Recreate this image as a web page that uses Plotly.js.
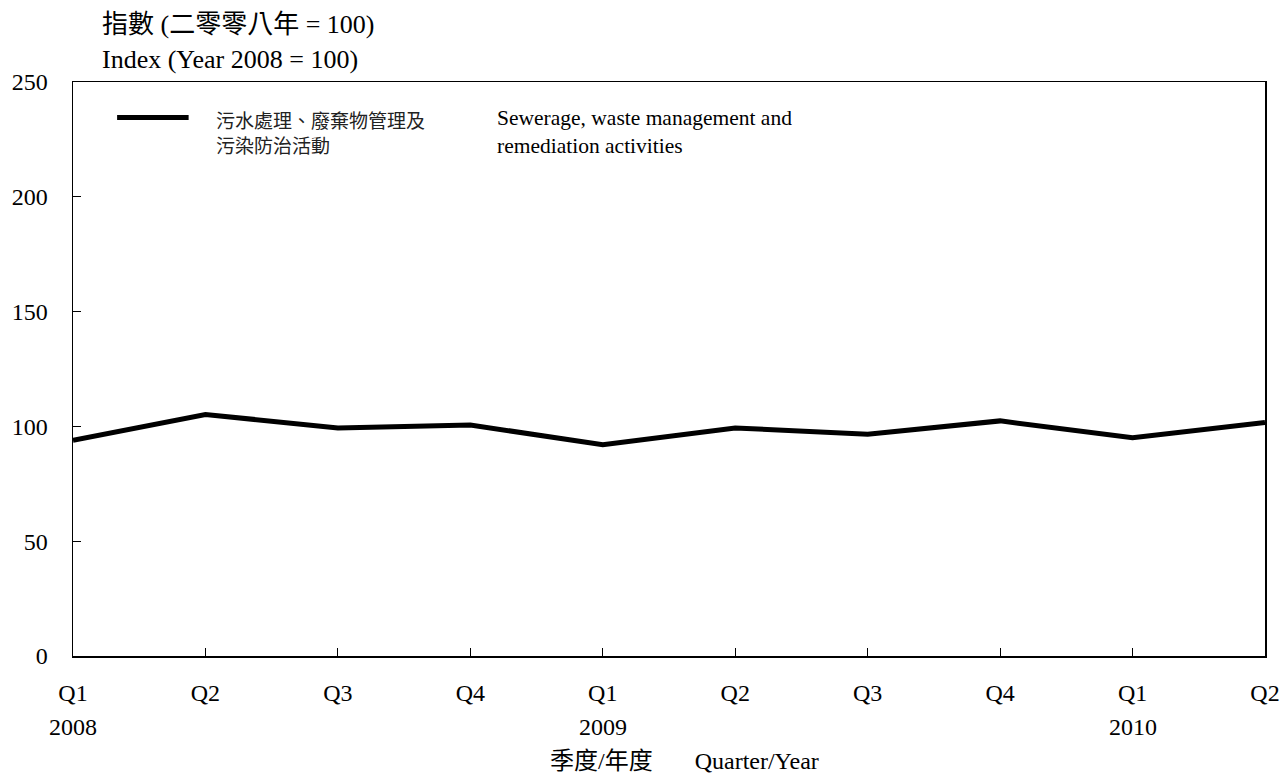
<!DOCTYPE html>
<html><head><meta charset="utf-8">
<script src="https://cdn.plot.ly/plotly-3.0.1.min.js"></script>
<style>html,body{margin:0;padding:0;background:#fff}#chart{width:1285px;height:774px}</style>
</head><body><div id="chart"></div>
<script>
const quarters = ["Q1","Q2","Q3","Q4","Q1","Q2","Q3","Q4","Q1","Q2"];
const years = ["2008","","","","2009","","","","2010",""];
const indexValues = [94.0, 105.2, 99.3, 100.6, 92.0, 99.3, 96.6, 102.4, 95.1, 101.7];
const seriesZh = "污水處理、廢棄物管理及<br>污染防治活動";
const seriesEn = "Sewerage, waste management and<br>remediation activities";
const yTicks = [0, 50, 100, 150, 200, 250];

const serif = "Liberation Serif, 'Times New Roman', 'Noto Sans CJK TC', serif";
const xPos = quarters.map((q, i) => i);

const annotations = [];
years.forEach((y, i) => {
  if (y) annotations.push({x: i, y: -0.123, xref: 'x', yref: 'paper', text: y, showarrow: false,
    font: {family: serif, size: 24, color: '#000'}, xanchor: 'center', yanchor: 'middle'});
});
annotations.push({x: 0.023, y: 1.1, xref: 'paper', yref: 'paper', text: '指數 (二零零八年 = 100)', showarrow: false,
  font: {family: serif, size: 26, color: '#000'}, xanchor: 'left', yanchor: 'middle'});
annotations.push({x: 0.023, y: 1.039, xref: 'paper', yref: 'paper', text: 'Index (Year 2008 = 100)', showarrow: false,
  font: {family: serif, size: 26, color: '#000'}, xanchor: 'left', yanchor: 'middle'});
annotations.push({x: 0.118, y: 0.913, xref: 'paper', yref: 'paper', text: seriesZh, showarrow: false, align: 'left',
  font: {family: "'Noto Sans CJK TC', sans-serif", size: 19, color: '#222'}, xanchor: 'left', yanchor: 'middle'});
annotations.push({x: 0.354, y: 0.913, xref: 'paper', yref: 'paper', text: seriesEn, showarrow: false, align: 'left',
  font: {family: serif, size: 21.5, color: '#000'}, xanchor: 'left', yanchor: 'middle'});
annotations.push({x: 0.513, y: -0.183, xref: 'paper', yref: 'paper', text: '季度/年度　   Quarter/Year', showarrow: false,
  font: {family: serif, size: 24, color: '#000'}, xanchor: 'center', yanchor: 'middle'});

const trace = {
  x: xPos, y: indexValues, type: 'scatter', mode: 'lines',
  line: {color: '#000', width: 5}, name: seriesZh, showlegend: false, hoverinfo: 'skip'
};

const layout = {
  width: 1285, height: 774,
  margin: {l: 73, r: 20, t: 82, b: 118},
  paper_bgcolor: '#fff', plot_bgcolor: '#fff',
  font: {family: serif, size: 24, color: '#000'},
  showlegend: false,
  xaxis: {
    range: [0, 9], tickmode: 'array', tickvals: xPos, ticktext: quarters,
    ticks: 'inside', ticklen: 8, tickcolor: '#000', tickwidth: 1,
    showline: true, linecolor: '#000', linewidth: 1.5, mirror: true,
    showgrid: false, zeroline: false, ticklabelstandoff: 15,
    tickfont: {family: serif, size: 24, color: '#000'}
  },
  yaxis: {
    range: [0, 250], tickmode: 'array', tickvals: yTicks,
    ticks: 'inside', ticklen: 8, tickcolor: '#000', tickwidth: 1,
    showline: true, linecolor: '#000', linewidth: 1.5, mirror: true,
    showgrid: false, zeroline: false, ticklabelstandoff: 19,
    tickfont: {family: serif, size: 24, color: '#000'}
  },
  shapes: [{type: 'line', xref: 'paper', yref: 'paper', x0: 0.037, x1: 0.097, y0: 0.938, y1: 0.938,
    line: {color: '#000', width: 5}}],
  annotations: annotations
};

Plotly.newPlot('chart', [trace], layout, {displayModeBar: false, staticPlot: true});
</script></body></html>
